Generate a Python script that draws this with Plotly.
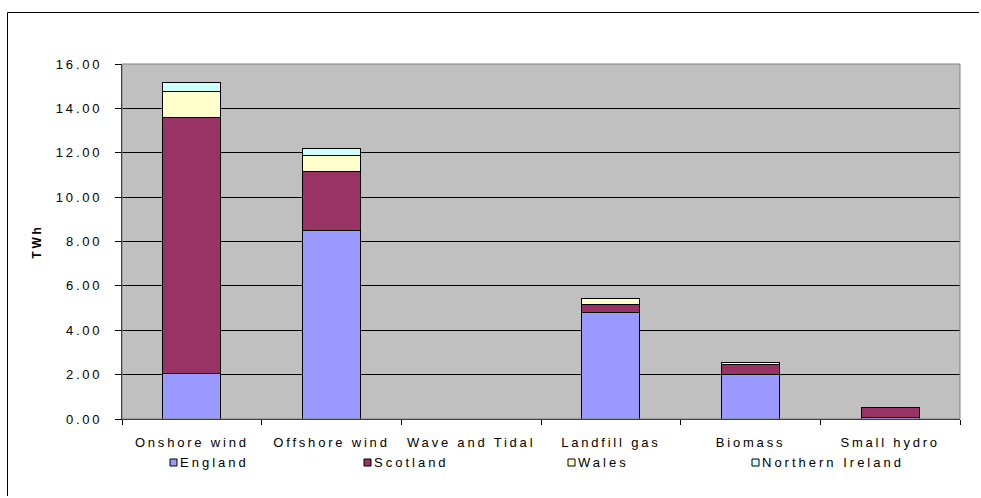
import plotly.graph_objects as go

# Renewable electricity generation by source and country (TWh)
categories = ["Onshore wind", "Offshore wind", "Wave and Tidal", "Landfill gas", "Biomass", "Small hydro"]
england = [2.03, 8.50, 0.00, 4.81, 2.00, 0.05]
scotland = [11.57, 2.65, 0.00, 0.36, 0.47, 0.46]
wales = [1.18, 0.72, 0.00, 0.28, 0.07, 0.01]
northern_ireland = [0.38, 0.34, 0.00, 0.00, 0.02, 0.00]

series_names = ["England", "Scotland", "Wales", "Northern Ireland"]
series_values = [england, scotland, wales, northern_ireland]
series_colors = ["#9999FF", "#993366", "#FFFFCC", "#CCFFFF"]

y_ticks = [0, 2, 4, 6, 8, 10, 12, 14, 16]
y_tick_labels = [f"{v:.2f}" for v in y_ticks]

FONT = "Liberation Sans, Arial, sans-serif"
FS = 13

fig = go.Figure()
for name, vals, col in zip(series_names, series_values, series_colors):
    fig.add_trace(go.Bar(
        x=categories, y=vals, name=name,
        marker=dict(color=col, line=dict(color="#000000", width=1)),
        showlegend=False,
    ))

W, H = 981, 498
ml, mr, mt, mb = 122, 21, 64, 79
pw, ph = W - ml - mr, H - mt - mb

def px_x(px):
    return (px - ml) / pw

def px_y(py):
    return (H - mb - py) / ph

shapes = [
    # outer chart frame: left and top edges, kept inside the page
    dict(type="line", xref="paper", yref="paper",
         x0=px_x(7.5), x1=px_x(7.5), y0=px_y(496), y1=px_y(12.5),
         line=dict(color="#000000", width=1)),
    dict(type="line", xref="paper", yref="paper",
         x0=px_x(7.5), x1=px_x(979), y0=px_y(12.5), y1=px_y(12.5),
         line=dict(color="#000000", width=1)),
    # plot area border
    dict(type="rect", xref="paper", yref="paper", x0=0, x1=1, y0=0, y1=1,
         line=dict(color="#808080", width=1), fillcolor="rgba(0,0,0,0)"),
]

# legend drawn as swatches + labels along the bottom
legend_swatch_x = [170, 364, 568, 752]
annotations = []
for name, col, lx in zip(series_names, series_colors, legend_swatch_x):
    shapes.append(dict(type="rect", xref="paper", yref="paper",
                       x0=px_x(lx), x1=px_x(lx + 7), y0=px_y(466), y1=px_y(459),
                       line=dict(color="#000000", width=1), fillcolor=col))
    annotations.append(dict(x=px_x(lx + 9), y=px_y(462.5), xref="paper", yref="paper",
                            text=name, showarrow=False, xanchor="left", yanchor="middle",
                            align="left", borderpad=0,
                            font=dict(family=FONT, size=FS, color="#000000")))

fig.update_layout(
    width=W, height=H,
    margin=dict(l=ml, r=mr, t=mt, b=mb, pad=0),
    barmode="stack",
    bargap=0.585,
    paper_bgcolor="#FFFFFF",
    plot_bgcolor="#C0C0C0",
    font=dict(family=FONT, size=FS, color="#000000"),
    shapes=shapes,
    annotations=annotations,
    xaxis=dict(
        type="category",
        tickson="boundaries",
        ticks="outside", ticklen=5, tickcolor="#000000", tickwidth=1,
        showline=True, linecolor="#000000", linewidth=1,
        showgrid=False,
        ticklabelstandoff=11,
        tickfont=dict(family=FONT, size=FS, color="#000000"),
    ),
    yaxis=dict(
        range=[0, 16],
        tickvals=y_ticks, ticktext=y_tick_labels,
        ticks="outside", ticklen=6, tickcolor="#000000", tickwidth=1,
        showline=True, linecolor="#000000", linewidth=1,
        showgrid=True, gridcolor="#000000", gridwidth=1,
        zeroline=False,
        ticklabelstandoff=10,
        tickfont=dict(family=FONT, size=FS, color="#000000"),
        title=dict(text="<b>TWh</b>", font=dict(family=FONT, size=12, color="#000000"), standoff=25),
    ),
)

# widen the character spacing of the axis and legend text, no page scrollbars
post = (
    "document.head.insertAdjacentHTML('beforeend',"
    "'<style>html,body{overflow:hidden}"
    ".xtick text,.ytick text,.ytitle{letter-spacing:2.8px}"
    ".annotation-text{letter-spacing:3px}</style>');"
)
fig.write_html("out.html", post_script=post)
